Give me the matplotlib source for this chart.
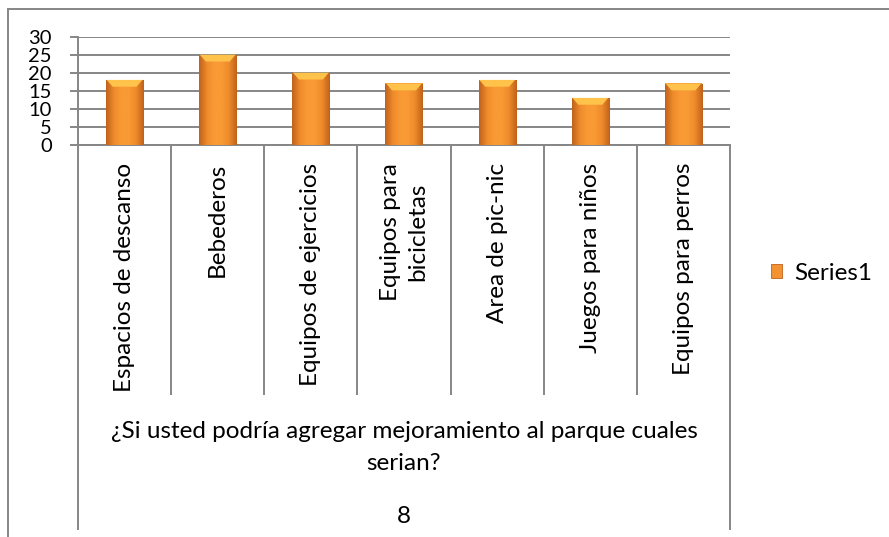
import numpy as np
import matplotlib.pyplot as plt
import matplotlib.transforms as mtransforms
from matplotlib.colors import LinearSegmentedColormap
from matplotlib.lines import Line2D
from matplotlib.patches import Polygon, Rectangle

plt.rcParams['font.family'] = ['Lato', 'DejaVu Sans']

categories = ["Espacios de descanso", "Bebederos", "Equipos de ejercicios",
              "Equipos para\nbicicletas", "Area de pic-nic", "Juegos para niños",
              "Equipos para perros"]
values = [18, 25, 20, 17, 18, 13, 17]
y_ticks = [0, 5, 10, 15, 20, 25, 30]
group_label = "¿Si usted podría agregar mejoramiento al parque cuales\nserian?"
outer_label = "8"
series_name = "Series1"

GRAY = '#868686'
FS = 17.5

W, H = 889, 537
fig = plt.figure(figsize=(W / 100, H / 100), dpi=100)
ax = fig.add_axes([78 / W, 1 - 144.7 / H, 652 / W, 108 / H])

x = np.arange(len(categories))
bars = ax.bar(x, values, width=0.4, color='#F39230', zorder=3)

# shaded body + light top bevel on each bar
shade = LinearSegmentedColormap.from_list(
    'shade', ['#C0621C', '#EE8A2A', '#F99A35', '#F99A35', '#EE8A2A', '#C0621C'])
grad = np.linspace(0, 1, 64).reshape(1, -1)
for b in bars:
    x0, w, h = b.get_x(), b.get_width(), b.get_height()
    im = ax.imshow(grad, cmap=shade, aspect='auto', extent=(x0, x0 + w, 0, h),
                   zorder=3.5, interpolation='bicubic')
    im.set_clip_path(b)
    dx, dy = w * 0.18, 1.9
    top = Polygon([(x0 + 0.02 * w, h), (x0 + 0.98 * w, h),
                   (x0 + w - dx, h - dy), (x0 + dx, h - dy)],
                  closed=True, facecolor='#FFC24A', edgecolor='none', zorder=4)
    ax.add_patch(top)
ax.set_xlim(-0.5, len(categories) - 0.5)
ax.set_ylim(0, 30)

ax.set_yticks(y_ticks)
ax.yaxis.grid(True, color=GRAY, lw=1.4, zorder=1)
ax.tick_params(axis='y', length=5.8, width=1.4, color=GRAY, labelsize=14.5, pad=13)
ax.set_xticks(x)
ax.set_xticklabels(categories, rotation=90, va='top', ha='center', fontsize=FS)
for lab in ax.get_xticklabels():
    lab.set_linespacing(1.4)
ax.tick_params(axis='x', length=0, pad=13)

for s in ['top', 'right']:
    ax.spines[s].set_visible(False)
for s in ['left', 'bottom']:
    ax.spines[s].set_color(GRAY)
    ax.spines[s].set_linewidth(1.4)

# category separators below the axis
trans = mtransforms.blended_transform_factory(ax.transData, ax.transAxes)
edges = np.arange(len(categories) + 1) - 0.5
for i, e in enumerate(edges):
    depth = -3.57 if i in (0, len(edges) - 1) else -2.32
    ax.plot([e, e], [0, depth], transform=trans, color=GRAY, lw=1.4,
            clip_on=False, solid_capstyle='butt')

ax.text(0.5, -2.80, group_label, transform=ax.transAxes, ha='center',
        va='center', fontsize=FS, linespacing=1.65)
ax.text(0.5, -3.447, outer_label, transform=ax.transAxes, ha='center',
        va='center', fontsize=FS)

handle = Rectangle((0, 0), 1, 1, facecolor='#F39230', edgecolor='#C0621C', lw=0.6)
fig.legend([handle], [series_name], loc='center left',
           bbox_to_anchor=(771 / W, 1 - 273 / H), frameon=False, fontsize=FS,
           handlelength=0.47, handleheight=0.47, handletextpad=0.5,
           borderpad=0, borderaxespad=0)

# chart area frame (top and left edges)
fig.add_artist(Line2D([8 / W, 8 / W], [0, 1 - 8.5 / H], color=GRAY, lw=1.4,
                      transform=fig.transFigure))
fig.add_artist(Line2D([8 / W, 1], [1 - 8.5 / H, 1 - 8.5 / H], color=GRAY,
                      lw=1.4, transform=fig.transFigure))

fig.savefig('out.png', dpi=100)
